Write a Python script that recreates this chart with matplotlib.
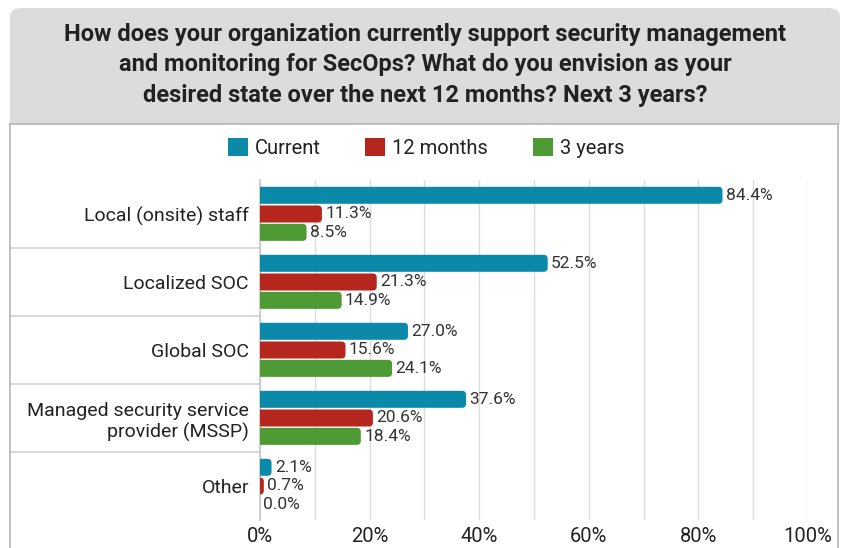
import numpy as np
import matplotlib
matplotlib.use("Agg")
import matplotlib.pyplot as plt
from matplotlib.patches import FancyBboxPatch, Rectangle
from matplotlib.lines import Line2D

categories = ["Local (onsite) staff", "Localized SOC", "Global SOC",
              "Managed security service\nprovider (MSSP)", "Other"]
current = [84.4, 52.5, 27.0, 37.6, 2.1]
months_12 = [11.3, 21.3, 15.6, 20.6, 0.7]
years_3 = [8.5, 14.9, 24.1, 18.4, 0.0]
series_names = ["Current", "12 months", "3 years"]
colors = ["#0a8aa8", "#b5261e", "#4e9a35"]

plt.rcParams["font.family"] = ["Roboto", "DejaVu Sans"]

W, H = 847, 548
fig = plt.figure(figsize=(W / 100, H / 100), dpi=100)

def fx(px):
    return px / W

def fy(py):
    return 1 - py / H

# grey header box with rounded top corners
fig.patches.append(FancyBboxPatch((fx(10), fy(124)), fx(830), fy(8) - fy(124),
                                  boxstyle="round,pad=0,rounding_size=0.015",
                                  transform=fig.transFigure, facecolor="#dcdcdc",
                                  edgecolor="none", zorder=0))
fig.patches.append(Rectangle((fx(10), fy(124)), fx(830), fy(100) - fy(124),
                             transform=fig.transFigure, facecolor="#dcdcdc",
                             edgecolor="none", zorder=0))
# white panel outline
for xs, ys in [([10, 838], [124, 124]), ([10, 10], [124, 548]), ([838, 838], [124, 548])]:
    fig.add_artist(Line2D([fx(x) for x in xs], [fy(y) for y in ys],
                          transform=fig.transFigure, color="#b5b5b5", lw=1.2))

fig.text(0.502, fy(65), "How does your organization currently support security management\n"
         "and monitoring for SecOps? What do you envision as your\n"
         "desired state over the next 12 months? Next 3 years?",
         ha="center", va="center", fontsize=17, fontweight="bold", color="#222222",
         linespacing=1.42)

ax = fig.add_axes([fx(260), fy(520), fx(808) - fx(260), fy(180) - fy(520)])

y = np.arange(len(categories))
offsets = [-0.275, 0.0, 0.27]
bar_h = 0.25
r_x = 0.75
aspect = (4.0 / 68) / r_x

for vals, off, col, name in zip([current, months_12, years_3], offsets, colors, series_names):
    bars = ax.barh(y + off, vals, height=bar_h, color=col, label=name)
    for b, v in zip(bars, vals):
        b.set_visible(False)
        if v > 0:
            p = FancyBboxPatch((-2, b.get_y()), v + 2, b.get_height(),
                               boxstyle=f"round,pad=0,rounding_size={min(r_x, (v + 2) / 2)}",
                               mutation_aspect=aspect, facecolor=col, edgecolor="none",
                               zorder=3)
            ax.add_patch(p)
        ax.text(v + 0.6, b.get_y() + b.get_height() / 2, f"{v:.1f}%", va="center",
                ha="left", fontsize=12.5, color="#333333", zorder=4)

ax.set_xlim(0, 100)
ax.set_ylim(4.5, -0.5)
ax.set_xticks(np.arange(0, 101, 20))
ax.set_xticks(np.arange(0, 101, 10), minor=True)
ax.set_xticklabels([f"{t}%" for t in range(0, 101, 20)], fontsize=14.5, color="#222222")
ax.grid(axis="x", which="both", color="#dcdcdc", lw=1, zorder=0)
ax.tick_params(axis="x", which="both", length=0, pad=5)
ax.set_yticks(y)
ax.set_yticklabels(categories, fontsize=14, color="#222222", linespacing=1.2)
ax.tick_params(axis="y", length=0, pad=8)
for s in ["top", "right", "bottom"]:
    ax.spines[s].set_visible(False)
ax.spines["left"].set_color("#c8c8c8")
ax.spines["left"].set_linewidth(1.2)

# separators between category labels
for b in np.arange(0.5, len(categories) - 1, 1.0):
    ax.plot([-45.6, 0], [b, b], color="#d0d0d0", lw=1.2, clip_on=False, zorder=1)

handles = [Rectangle((0, 0), 1, 1, facecolor=c) for c in colors]
fig.legend(handles, series_names, loc="center", bbox_to_anchor=(fx(426), fy(148)),
           ncol=3, frameon=False, fontsize=14.5, handlelength=1.0, handleheight=1.0,
           handletextpad=0.35, columnspacing=2.2, labelcolor="#222222")

fig.savefig("out.png", dpi=100)
